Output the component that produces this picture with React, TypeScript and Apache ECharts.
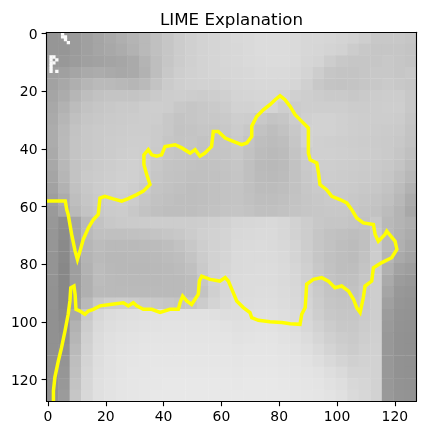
import { useEffect, useRef } from 'react';
import * as echarts from 'echarts';

const chartTitle = 'LIME Explanation';
const tickValues = [0, 20, 40, 60, 80, 100, 120];
const imageSize = 128;
const cellSize = 4;

// gray level of each 4x4 block of the x-ray (rows from the top)
const grayRows: number[][] = [
    [150, 150, 155, 160, 165, 170, 175, 180, 185, 192, 198, 204, 208, 211, 213, 215, 217, 218, 220, 220, 220, 218, 215, 215, 214, 212, 210, 206, 200, 200, 200, 198],
    [150, 150, 155, 160, 165, 168, 172, 178, 185, 192, 198, 204, 208, 211, 213, 215, 216, 218, 220, 220, 220, 218, 215, 214, 212, 210, 204, 200, 198, 198, 198, 196],
    [152, 152, 156, 160, 162, 164, 166, 170, 180, 190, 198, 204, 208, 211, 213, 215, 216, 218, 219, 220, 220, 218, 214, 212, 205, 200, 198, 198, 198, 200, 198, 196],
    [158, 160, 165, 170, 172, 170, 168, 170, 178, 190, 200, 206, 209, 211, 213, 214, 215, 216, 218, 218, 218, 216, 212, 205, 198, 196, 196, 198, 200, 200, 198, 200],
    [162, 168, 175, 182, 186, 186, 184, 182, 186, 195, 203, 207, 209, 210, 210, 212, 214, 215, 216, 216, 216, 214, 208, 200, 196, 195, 196, 198, 200, 202, 200, 198],
    [165, 172, 182, 190, 194, 196, 196, 196, 198, 202, 205, 206, 205, 204, 206, 208, 212, 213, 214, 214, 212, 208, 206, 204, 202, 202, 200, 202, 204, 205, 205, 200],
    [168, 178, 188, 195, 198, 200, 202, 202, 205, 206, 205, 200, 198, 200, 202, 205, 210, 210, 212, 212, 206, 204, 206, 206, 206, 206, 204, 204, 205, 206, 206, 200],
    [170, 182, 192, 198, 200, 202, 203, 204, 205, 205, 200, 196, 198, 200, 200, 202, 206, 205, 200, 196, 198, 204, 208, 210, 210, 208, 206, 205, 205, 205, 204, 198],
    [172, 185, 195, 200, 202, 203, 204, 205, 205, 203, 200, 195, 196, 198, 197, 200, 204, 200, 194, 190, 194, 200, 210, 210, 210, 208, 206, 205, 204, 203, 202, 196],
    [172, 186, 196, 200, 202, 204, 205, 206, 206, 203, 198, 196, 197, 195, 196, 198, 202, 196, 190, 188, 190, 198, 210, 208, 207, 206, 205, 204, 203, 202, 200, 195],
    [170, 186, 196, 200, 202, 204, 206, 207, 206, 202, 198, 196, 195, 194, 196, 197, 200, 194, 188, 186, 188, 196, 204, 208, 208, 207, 206, 205, 204, 202, 198, 192],
    [168, 184, 195, 200, 203, 205, 207, 208, 206, 200, 196, 195, 194, 193, 194, 196, 198, 192, 186, 185, 187, 194, 202, 206, 206, 205, 204, 203, 202, 200, 196, 188],
    [165, 182, 195, 202, 204, 206, 208, 208, 205, 198, 195, 194, 192, 192, 193, 195, 197, 192, 187, 186, 188, 194, 200, 204, 205, 204, 203, 202, 201, 198, 192, 184],
    [162, 178, 193, 200, 204, 206, 208, 206, 202, 196, 194, 192, 190, 191, 193, 195, 196, 192, 188, 188, 190, 194, 199, 202, 203, 203, 202, 200, 199, 195, 188, 178],
    [158, 172, 190, 198, 202, 205, 206, 204, 198, 194, 192, 190, 190, 191, 193, 195, 196, 193, 190, 190, 192, 195, 198, 200, 202, 202, 200, 198, 196, 192, 184, 172],
    [154, 166, 186, 195, 200, 203, 204, 200, 195, 192, 190, 190, 190, 192, 194, 196, 197, 195, 192, 192, 194, 196, 198, 199, 200, 200, 198, 196, 194, 188, 180, 168],
    [152, 142, 165, 185, 195, 200, 202, 203, 204, 205, 205, 205, 205, 206, 208, 210, 214, 215, 216, 217, 215, 210, 205, 200, 198, 198, 196, 194, 200, 185, 180, 175],
    [150, 140, 165, 185, 192, 192, 192, 193, 194, 196, 198, 200, 204, 208, 210, 212, 216, 217, 218, 218, 215, 210, 205, 198, 194, 192, 190, 192, 202, 185, 178, 172],
    [150, 138, 162, 182, 188, 186, 186, 186, 187, 188, 190, 194, 200, 206, 210, 212, 217, 218, 219, 218, 216, 212, 205, 198, 194, 190, 188, 192, 204, 186, 176, 168],
    [148, 138, 160, 180, 186, 184, 184, 185, 185, 186, 188, 190, 196, 204, 210, 213, 218, 219, 219, 219, 217, 212, 206, 198, 193, 190, 188, 194, 205, 182, 170, 164],
    [148, 136, 158, 178, 188, 185, 184, 184, 184, 185, 186, 188, 192, 202, 210, 214, 218, 219, 220, 220, 218, 214, 208, 200, 194, 190, 190, 196, 205, 176, 162, 158],
    [147, 136, 158, 176, 188, 186, 185, 185, 185, 185, 186, 186, 188, 198, 210, 215, 219, 220, 220, 220, 218, 215, 208, 200, 195, 192, 192, 198, 206, 170, 156, 153],
    [146, 136, 158, 176, 186, 186, 186, 186, 186, 186, 186, 186, 188, 195, 208, 215, 219, 220, 221, 221, 219, 216, 210, 202, 196, 194, 194, 200, 206, 165, 152, 150],
    [146, 136, 160, 185, 200, 204, 205, 204, 202, 200, 198, 196, 198, 204, 212, 217, 220, 221, 222, 222, 220, 217, 212, 204, 198, 196, 196, 201, 206, 160, 150, 148],
    [145, 138, 170, 200, 215, 220, 222, 223, 224, 225, 225, 225, 225, 225, 224, 222, 222, 223, 224, 224, 222, 219, 214, 206, 200, 198, 198, 202, 206, 156, 148, 147],
    [145, 140, 178, 205, 218, 222, 224, 225, 226, 226, 227, 227, 227, 227, 227, 226, 224, 225, 226, 226, 224, 221, 216, 210, 204, 200, 200, 204, 207, 154, 147, 146],
    [145, 142, 182, 208, 220, 224, 226, 227, 228, 228, 228, 228, 228, 228, 228, 228, 226, 227, 228, 228, 226, 224, 220, 214, 208, 204, 202, 206, 208, 152, 146, 145],
    [145, 145, 186, 210, 221, 225, 227, 228, 229, 229, 229, 229, 229, 229, 229, 229, 228, 229, 229, 229, 228, 226, 223, 218, 212, 207, 204, 208, 209, 152, 146, 145],
    [145, 148, 190, 212, 222, 226, 228, 229, 230, 230, 230, 230, 230, 230, 230, 230, 229, 230, 230, 230, 229, 228, 226, 222, 217, 212, 208, 210, 210, 152, 146, 145],
    [145, 150, 192, 214, 223, 226, 228, 230, 230, 231, 231, 231, 231, 231, 231, 231, 230, 231, 231, 231, 230, 229, 228, 226, 222, 218, 212, 212, 210, 152, 146, 145],
    [145, 152, 195, 215, 224, 227, 229, 230, 231, 231, 232, 232, 232, 232, 232, 232, 231, 232, 232, 232, 231, 230, 229, 228, 225, 222, 216, 214, 210, 152, 147, 146],
    [145, 155, 198, 216, 224, 227, 229, 230, 231, 232, 232, 232, 232, 232, 232, 232, 232, 232, 232, 232, 232, 231, 230, 229, 227, 224, 218, 215, 210, 153, 148, 147],
];

// the white burned-in marker in the top left corner, single pixels [x, y]
const markerPixels: number[][] = [
    [1, 8], [1, 9], [1, 10], [1, 11], [1, 12], [1, 13], [2, 8], [3, 9], [2, 10], [3, 13],
    [5, 0], [5, 1], [6, 1], [6, 2], [7, 3],
];
const markerGray = 250;

// LIME segment boundary, [x, y] in image pixels
const boundary: number[][] = [
    [-0.5, 58], [6, 58], [6.5, 61], [7, 62.7], [8.2, 69.6], [9.4, 75.4], [10.2, 78.3], [11.1, 75.4],
    [12.2, 71.4], [14, 67.3], [15.7, 64.5], [17.4, 62.7], [18, 57], [19.7, 56.4], [22.6, 57.3],
    [25.5, 58.1], [27.8, 57.2], [30.7, 55.8], [33, 54.6], [35.3, 52.3], [34.2, 48.9], [33.2, 45.4],
    [33.2, 42], [34.7, 40.2], [35.9, 42], [37.6, 42.5], [39.3, 42], [40.5, 39.1], [44, 38.5],
    [46.3, 39.6], [49.2, 41.4], [50.9, 40.2], [52.6, 42.5], [54.3, 41.4], [56.6, 39.1], [57.2, 33.9],
    [58.9, 33.9], [61.3, 36.2], [64.1, 37.3], [67, 38.5], [68.8, 37.9], [70.5, 35.6], [70.5, 32.1],
    [72.2, 28.7], [74.5, 26.4], [76.8, 24.6], [78.6, 22.9], [80.3, 21.5], [82, 22.9], [83.8, 25.2],
    [85.5, 28.1], [87.8, 30.4], [90.1, 32.7], [90.1, 36.8], [90.1, 41.4], [90.7, 43.7], [93, 44.8],
    [93.6, 48.3], [94.1, 52.3], [96.4, 54.1], [98.2, 56.4], [101, 57.5], [103.4, 58.7], [105.1, 61],
    [106.8, 63.9], [109.1, 65.6], [112.6, 66.2], [113.2, 69.6], [114.3, 72], [116.6, 69.6],
    [117.2, 68.5], [120.1, 72], [120.7, 74.8], [118.9, 77.7], [115.5, 79.4], [112.6, 81.2],
    [112, 85.8], [109.7, 87.5], [109.1, 91.6], [108, 96.7], [106.8, 95], [105.7, 92.1], [104, 89.3],
    [101.6, 87.5], [99.3, 88.1], [97, 85.8], [94.7, 84.6], [91.8, 85.2], [89.5, 86.9], [89.3, 90.4],
    [89, 95], [87.8, 97.3], [87.2, 100.8], [83.8, 100.6], [80.9, 100.2], [76.8, 99.9], [72.8, 99.4],
    [70.5, 98.5], [69.9, 96.7], [67.6, 95], [65.3, 92.7], [64.1, 89.8], [62.4, 85.8], [61.3, 84.6],
    [59.5, 85.8], [56.1, 85.2], [53.2, 84.1], [52.4, 85.8], [52, 90.4], [50.9, 92.1], [49.7, 93.9],
    [48, 92.7], [46.6, 91], [45.7, 93.3], [45.1, 95.6], [42.2, 95.6], [38.8, 96.7], [35.9, 95.6],
    [33, 95.6], [30.7, 94.4], [29.5, 93.3], [27.8, 94.4], [26.1, 93.3], [21.5, 93.9], [18, 94.4],
    [15.7, 95.6], [14, 96.2], [12.8, 97.3], [11.1, 96.2], [9.7, 95.6], [9.4, 90.4], [9, 87.5],
    [7.9, 88.1], [7.6, 92.7], [7, 97.3], [5.9, 103.1], [4.7, 108.9], [3.6, 113.5], [2.4, 119.2],
    [1.9, 123.9], [1.9, 127.5],
];

const font = 'DejaVu Sans';

export default function App() {
    const chartRef = useRef<HTMLDivElement>(null);

    useEffect(() => {
        if (!chartRef.current) return;
        const chart = echarts.init(chartRef.current, null, { renderer: 'svg' });

        // [x of first pixel, y of first pixel, gray, block size]
        const cells: number[][] = [];
        grayRows.forEach((row, r) => {
            row.forEach((g, c) => cells.push([c * cellSize, r * cellSize, g, cellSize]));
        });
        markerPixels.forEach(([x, y]) => cells.push([x, y, markerGray, 1]));

        const axisCommon = {
            type: 'value' as const,
            min: -0.5,
            max: imageSize - 0.5,
            splitLine: { show: false },
            z: 10,
            axisLine: { show: true, onZero: false, lineStyle: { color: '#000', width: 1.1 } },
        };
        const ticks = {
            show: true,
            length: 4.9,
            customValues: tickValues,
            lineStyle: { color: '#000', width: 1.1 },
        };
        const labels = {
            show: true,
            customValues: tickValues,
            color: '#000',
            fontFamily: font,
            fontSize: 13.9,
            formatter: (v: number) => String(v),
        };

        chart.setOption({
            animation: false,
            graphic: [
                {
                    type: 'text',
                    x: 231.5,
                    y: 19,
                    style: {
                        text: chartTitle,
                        fill: '#000',
                        font: `16.7px "${font}"`,
                        textAlign: 'center',
                        textVerticalAlign: 'middle',
                    },
                },
            ],
            grid: { left: 46.5, top: 32.3, width: 370, height: 369, outerBoundsMode: 'none' },
            xAxis: [
                { ...axisCommon, position: 'bottom', axisTick: ticks, axisLabel: { ...labels, margin: 8 } },
                { ...axisCommon, position: 'top', axisTick: { show: false }, axisLabel: { show: false } },
            ],
            yAxis: [
                { ...axisCommon, inverse: true, position: 'left', axisTick: ticks, axisLabel: { ...labels, margin: 9 } },
                { ...axisCommon, inverse: true, position: 'right', axisTick: { show: false }, axisLabel: { show: false } },
            ],
            series: [
                {
                    type: 'custom',
                    xAxisIndex: 0,
                    yAxisIndex: 0,
                    clip: true,
                    silent: true,
                    data: cells,
                    renderItem: (_params: any, api: any) => {
                        const x = api.value(0);
                        const y = api.value(1);
                        const g = api.value(2);
                        const s = api.value(3);
                        const p0 = api.coord([x - 0.5, y - 0.5]);
                        const p1 = api.coord([x - 0.5 + s, y - 0.5 + s]);
                        return {
                            type: 'rect',
                            shape: {
                                x: Math.min(p0[0], p1[0]),
                                y: Math.min(p0[1], p1[1]),
                                width: Math.abs(p1[0] - p0[0]) + 0.4,
                                height: Math.abs(p1[1] - p0[1]) + 0.4,
                            },
                            style: { fill: `rgb(${g},${g},${g})` },
                        };
                    },
                },
                {
                    type: 'line',
                    xAxisIndex: 0,
                    yAxisIndex: 0,
                    data: boundary,
                    showSymbol: false,
                    symbol: 'none',
                    silent: true,
                    clip: true,
                    z: 5,
                    lineStyle: { color: '#ffff00', width: 3.5, join: 'miter' },
                },
            ],
        });

        return () => {
            chart.dispose();
        };
    }, []);

    return (
        <div
            ref={chartRef}
            style={{ position: 'fixed', left: 0, top: 0, width: '425px', height: '435px' }}
        />
    );
}
